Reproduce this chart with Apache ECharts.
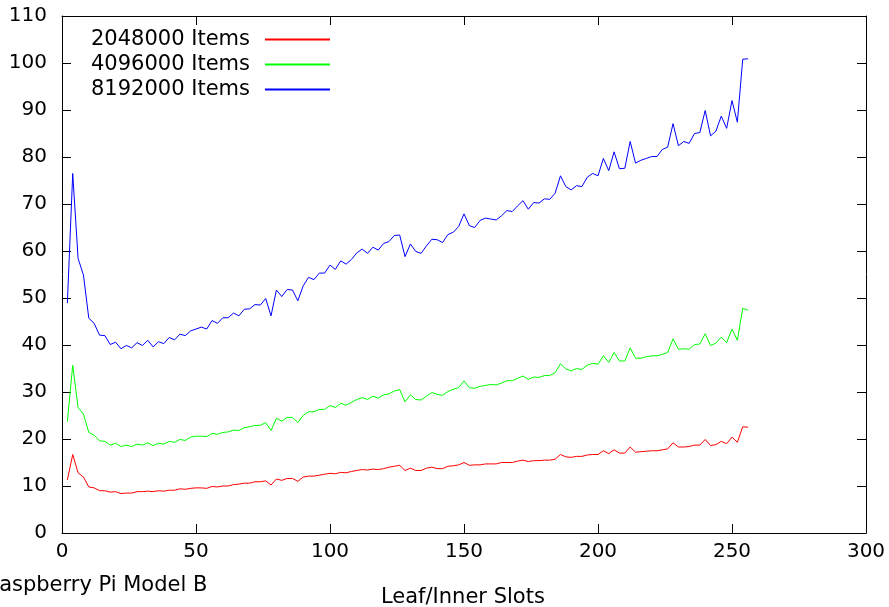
<!DOCTYPE html>
<html>
<head>
<meta charset="utf-8">
<script src="https://cdn.jsdelivr.net/npm/echarts@6/dist/echarts.min.js"></script>
<style>
html,body{margin:0;padding:0;background:#fff;}
#main{width:889px;height:607px;}
</style>
</head>
<body>
<div id="main"></div>
<script>
const slots = [2,4,6,8,10,12,14,16,18,20,22,24,26,28,30,32,34,36,38,40,42,44,46,48,50,52,54,56,58,60,62,64,66,68,70,72,74,76,78,80,82,84,86,88,90,92,94,96,98,100,102,104,106,108,110,112,114,116,118,120,122,124,126,128,130,132,134,136,138,140,142,144,146,148,150,152,154,156,158,160,162,164,166,168,170,172,174,176,178,180,182,184,186,188,190,192,194,196,198,200,202,204,206,208,210,212,214,216,218,220,222,224,226,228,230,232,234,236,238,240,242,244,246,248,250,252,254,256];

const items2048k = [11.3,16.7,12.8,11.9,9.8,9.6,9.0,9.0,8.7,8.8,8.4,8.5,8.5,8.8,8.8,8.9,8.8,9.0,8.9,9.1,9.1,9.4,9.3,9.5,9.6,9.6,9.5,9.9,9.8,10.0,10.0,10.3,10.4,10.6,10.6,10.9,10.9,11.1,10.2,11.5,11.2,11.6,11.6,11.0,11.9,12.1,12.1,12.3,12.5,12.7,12.6,12.9,12.8,13.1,13.3,13.5,13.4,13.6,13.5,13.7,14.0,14.2,14.4,
13.3,13.8,13.3,13.3,13.8,14.0,13.7,13.7,14.2,14.3,14.5,15.0,14.4,14.5,14.5,14.7,14.7,14.7,15.0,15.0,15.0,15.3,15.5,15.2,15.4,15.4,15.5,15.5,15.7,16.7,16.2,16.1,16.3,16.3,16.6,16.7,16.7,17.5,16.9,17.7,17.0,17.0,18.3,17.2,17.3,17.4,17.5,17.5,17.7,17.9,19.2,18.3,18.3,18.4,18.7,18.7,19.9,18.6,18.8,19.5,19.0,20.4,19.3,22.6,22.5];

const items4096k = [23.7,35.7,26.7,25.3,21.4,20.8,19.6,19.5,18.7,19.1,18.4,18.7,18.4,18.9,18.7,19.2,18.6,19.1,18.9,19.5,19.3,19.9,19.7,20.4,20.6,20.6,20.5,21.2,21.0,21.4,21.5,21.9,21.8,22.4,22.6,22.9,22.9,23.5,21.8,24.4,23.8,24.6,24.6,23.5,25.0,25.8,25.8,26.3,26.3,27.1,26.7,27.6,27.2,27.8,28.4,28.8,28.4,29.1,28.7,29.4,29.6,30.2,30.5,
27.9,29.4,28.4,28.3,29.1,29.9,29.5,29.3,30.1,30.6,30.9,32.4,30.9,30.8,31.2,31.4,31.6,31.5,31.9,32.4,32.4,32.9,33.4,32.7,33.2,33.1,33.5,33.5,34.1,36.0,34.9,34.5,35.0,34.8,35.7,36.1,35.9,37.7,36.3,38.4,36.6,36.6,39.4,37.2,37.2,37.5,37.7,37.7,38.0,38.4,41.3,39.1,39.2,39.1,40.1,40.2,42.4,39.9,40.4,41.7,40.5,43.4,41.0,47.8,47.4];

const items8192k = [48.9,76.5,58.4,54.9,45.7,44.6,42.1,42.0,40.1,40.6,39.2,39.9,39.4,40.5,39.9,41.0,39.6,40.7,40.3,41.6,41.1,42.3,42.0,43.0,43.4,43.8,43.4,45.2,44.6,45.8,45.8,46.8,46.2,47.6,47.7,48.6,48.5,49.9,46.2,51.7,50.3,51.8,51.7,49.4,52.6,54.4,53.9,55.3,55.3,57.0,56.1,57.9,57.2,58.2,59.6,60.4,59.5,60.8,60.2,61.6,62.0,63.3,63.4,
58.8,61.5,59.9,59.5,61.1,62.5,62.4,61.8,63.5,64.0,65.2,67.9,65.4,65.0,66.5,67.0,66.8,66.6,67.5,68.6,68.4,69.6,70.7,68.9,70.3,70.2,71.1,71.0,72.3,76.0,73.7,73.0,73.9,73.7,75.7,76.5,76.0,79.7,77.1,81.1,77.5,77.6,83.3,78.7,79.3,79.7,80.1,80.1,81.6,82.1,87.1,82.4,83.3,82.9,85.0,85.2,89.9,84.5,85.5,88.7,86.1,92.0,87.4,100.8,100.9];

const seriesNames = ['2048000 Items','4096000 Items','8192000 Items'];
const seriesColors = ['#ff0000','#00ff00','#0000ff'];
const seriesValues = [items2048k, items4096k, items8192k];

const FONT = 'DejaVu Sans';
const chart = echarts.init(document.getElementById('main'), null, {renderer:'canvas'});

function pairs(vals){ return slots.map((s,i)=>[s, vals[i]]); }

const axisCommon = {
  type:'value',
  axisLine:{show:true,onZero:false,lineStyle:{color:'#000',width:1}},
  axisTick:{show:true,inside:true,length:9,lineStyle:{color:'#000',width:1}},
  splitLine:{show:false}
};

chart.setOption({
  animation:false,
  backgroundColor:'#fff',
  textStyle:{fontFamily:FONT},
  grid:{left:62,right:23,top:16,bottom:74,containLabel:false},
  legend:{
    orient:'vertical',
    left:86, top:24,
    align:'right',
    itemWidth:65, itemHeight:20, itemGap:4,
    itemStyle:{opacity:0},
    textStyle:{fontFamily:FONT,fontSize:21,color:'#000',lineHeight:20,padding:[0,10,0,0]},
    data:seriesNames
  },
  xAxis:[
    Object.assign({},axisCommon,{position:'bottom',min:0,max:300,interval:50,
      axisLabel:{show:true,margin:9,fontFamily:FONT,fontSize:20,color:'#000'}}),
    Object.assign({},axisCommon,{position:'top',min:0,max:300,interval:50,
      axisLabel:{show:false}})
  ],
  yAxis:[
    Object.assign({},axisCommon,{position:'left',min:0,max:110,interval:10,
      axisLabel:{show:true,margin:15,fontFamily:FONT,fontSize:20,color:'#000'}}),
    Object.assign({},axisCommon,{position:'right',min:0,max:110,interval:10,
      axisLabel:{show:false}})
  ],
  series: seriesNames.map((n,i)=>({
    name:n, type:'line', xAxisIndex:0, yAxisIndex:0,
    data:pairs(seriesValues[i]),
    symbol:'none', showSymbol:false,
    lineStyle:{color:seriesColors[i],width:1},
    itemStyle:{color:seriesColors[i]},
    emphasis:{disabled:true}
  })),
  graphic:[
    {type:'text',left:381,top:587,style:{text:'Leaf/Inner Slots',font:'21px "DejaVu Sans"',fill:'#000'}},
    {type:'text',left:-15,top:575,style:{text:'Raspberry Pi Model B',font:'21px "DejaVu Sans"',fill:'#000'}}
  ]
});
</script>
</body>
</html>
